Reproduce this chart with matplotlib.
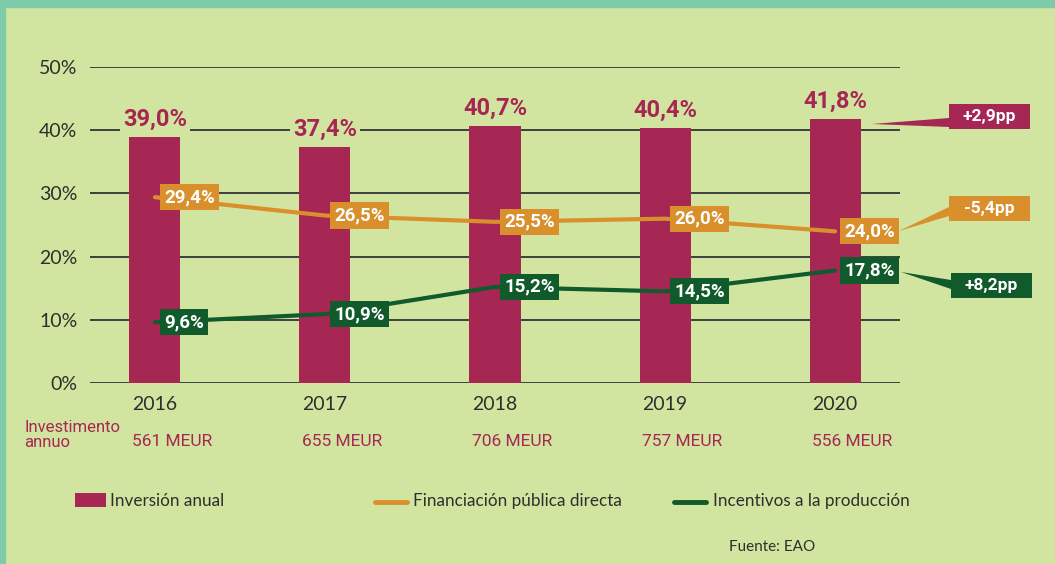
import matplotlib
matplotlib.use('Agg')
from matplotlib import pyplot as plt
from matplotlib.patches import Rectangle, Polygon
import numpy as np

years = ['2016', '2017', '2018', '2019', '2020']
inversion = [39.0, 37.4, 40.7, 40.4, 41.8]
financiacion = [29.4, 26.5, 25.5, 26.0, 24.0]
incentivos = [9.6, 10.9, 15.2, 14.5, 17.8]
meur = [561, 655, 706, 757, 556]
cambios = ['+2,9pp', '-5,4pp', '+8,2pp']
yticks = [0, 10, 20, 30, 40, 50]

bg = '#D2E5A0'
border = '#7ECBAA'
magenta = '#A62754'
orange = '#D98F2B'
green = '#105A2C'
grid = '#3F3F3F'
textc = '#2E2E2E'


def pct(v):
    return '{:.1f}%'.format(v).replace('.', ',')


W, H = 1055, 564
fig = plt.figure(figsize=(W / 100, H / 100), dpi=100, facecolor=bg)

# main chart
ax = fig.add_axes([90 / W, 1 - 383 / H, 810 / W, 316 / H])
ax.set_facecolor('none')
ax.set_zorder(2)
x = np.arange(len(years))
ax.set_xlim(-0.382, 4.382)
ax.set_ylim(0, 50)
for s in ax.spines.values():
    s.set_visible(False)
for t in yticks:
    ax.axhline(t, color=grid, lw=1.4, zorder=0)
ax.set_yticks(yticks)
ax.set_yticklabels(['{}%'.format(t) for t in yticks], fontsize=14, color=textc, family='Lato')
ax.set_xticks(x)
ax.set_xticklabels(years, fontsize=14, color=textc, family='Lato')
ax.tick_params(length=0)
ax.tick_params(axis='y', pad=9)
ax.tick_params(axis='x', pad=9)

ax.bar(x, inversion, width=0.3, color=magenta, zorder=2)
for xi, v in zip(x, inversion):
    ax.annotate(pct(v), (xi, v), xytext=(0, 4), textcoords='offset points',
                ha='center', va='bottom', fontsize=17, fontweight='bold', family='Roboto',
                color=magenta, zorder=3,
                bbox=dict(boxstyle='square,pad=0.12', fc=bg, ec='none'))

ax.plot(x, financiacion, color=orange, lw=3.0, solid_capstyle='round', zorder=3)
ax.plot(x, incentivos, color=green, lw=3.0, solid_capstyle='round', zorder=3)
for serie, c in [(financiacion, orange), (incentivos, green)]:
    for xi, v in zip(x, serie):
        ax.annotate(pct(v), (xi, v), xytext=(6.5, 0), textcoords='offset points',
                    ha='left', va='center', fontsize=13.5, fontweight='bold', family='Roboto',
                    color='white', zorder=4,
                    bbox=dict(boxstyle='square,pad=0.22', fc=c, ec='none'))

# overlay for decorations (pixel coordinates)
ov = fig.add_axes([0, 0, 1, 1])
ov.set_zorder(3)
ov.set_facecolor('none')
ov.set_xlim(0, W)
ov.set_ylim(H, 0)
ov.axis('off')

ov.add_patch(Rectangle((0, 0), W, 7, color=border))
ov.add_patch(Rectangle((0, 0), 5, H, color=border))

# change boxes with wedges
boxes = [(magenta, 949, 104, [(872, 124), (949, 118), (949, 127)]),
         (orange, 949, 196, [(899, 231), (949, 207), (949, 216)]),
         (green, 951, 273, [(901, 272), (951, 280), (951, 289)])]
for (c, bx, by, tri), lab in zip(boxes, cambios):
    ov.add_patch(Polygon(tri, closed=True, color=c, lw=0))
    ov.add_patch(Rectangle((bx, by), 81, 25, color=c, lw=0))
    ov.text(bx + 40.5, by + 12.5, lab, ha='center', va='center', color='white',
            fontsize=12.5, fontweight='bold', family='Roboto')

# annual investment row
ov.text(24, 435, 'Investimento\nannuo', ha='left', va='center', color=magenta,
        fontsize=12, family='Roboto', linespacing=0.95)
for xi, m in zip(x, meur):
    px = ax.transData.transform((xi, 0))[0]
    ov.text(px - 23, 442, '{} MEUR'.format(m), ha='left', va='center', color=magenta,
            fontsize=12.5, family='Roboto')

# legend
ov.add_patch(Rectangle((75, 493), 31, 14, color=magenta, lw=0))
ov.text(110, 501, 'Inversión anual', ha='left', va='center', color=textc, fontsize=12.3, family='Lato')
ov.plot([375, 407], [502, 502], color=orange, lw=3.5, solid_capstyle='round')
ov.text(413, 501, 'Financiación pública directa', ha='left', va='center', color=textc, fontsize=12.3, family='Lato')
ov.plot([674, 706], [502, 502], color=green, lw=3.5, solid_capstyle='round')
ov.text(713, 501, 'Incentivos a la producción', ha='left', va='center', color=textc, fontsize=12.3, family='Lato')
ov.text(729, 547, 'Fuente: EAO', ha='left', va='center', color=textc, fontsize=11, family='Lato')

fig.savefig('out.png', dpi=100, facecolor=bg)
